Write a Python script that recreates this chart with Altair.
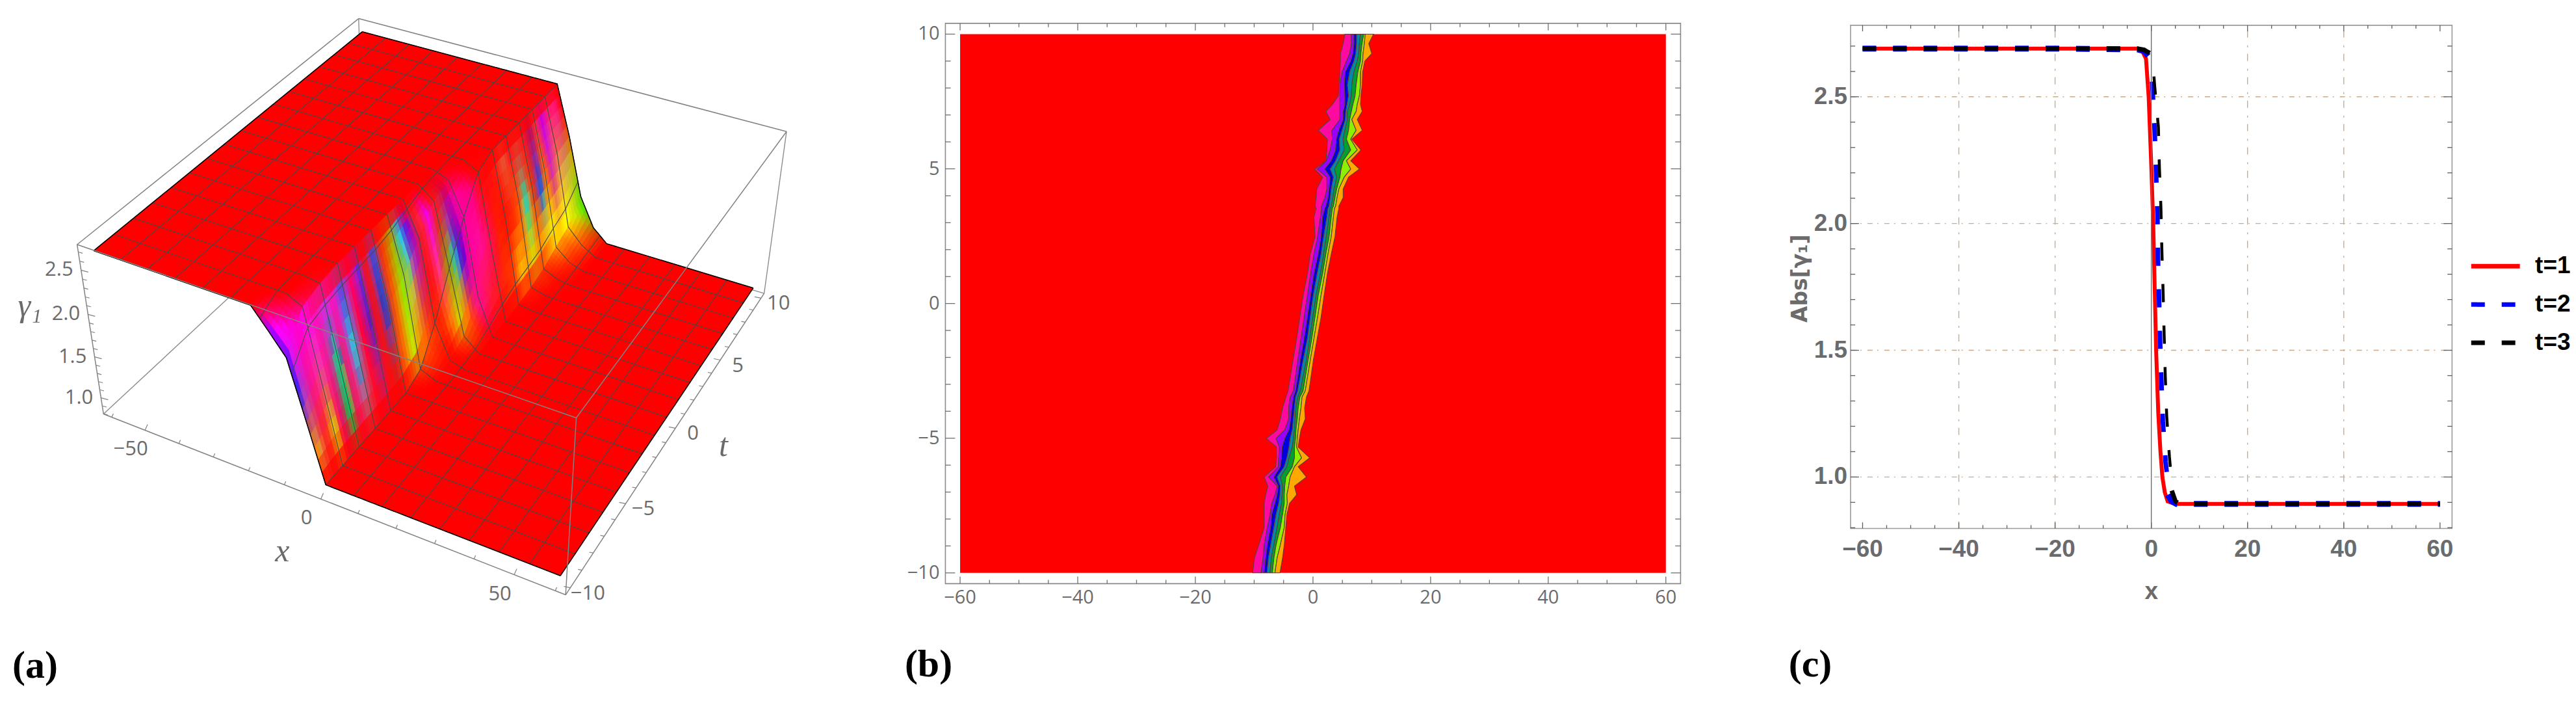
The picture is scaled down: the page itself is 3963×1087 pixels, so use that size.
import numpy as np
import altair as alt

# ---------- panel (a): surface values ----------
PLATEAU = 2.69
FLOOR = 0.894
COL_X = [-60, -21.43, -17.14, -12.86, -8.57, -4.28, 0, 4.28, 8.57, 12.86, 17.14, 21.43, 60]
T_ROWS = [-10, -8.75, -7.5, -6.25, -5, -3.75, -2.5, -1.25, 0, 1.25, 2.5, 3.75, 5, 6.25, 7.5, 8.75, 10]
Z_ROWS = [
    [2.69, 2.47, 2.24, 1.57, .894, .894, .894, .894, .894],
    [2.69, 2.69, 2.60, 1.75, .894, .894, .894, .894, .894],
    [2.69, 2.69, 2.66, 1.78, .894, .894, .894, .894, .894],
    [2.69, 2.69, 2.69, 1.80, .894, .894, .894, .894, .894],
    [2.69, 2.69, 2.69, 1.85, .894, .894, .894, .894, .894],
    [2.69, 2.69, 2.69, 1.90, .894, .894, .894, .894, .894],
    [2.69, 2.69, 2.69, 2.05, .98, .90, .894, .894, .894],
    [2.69, 2.69, 2.69, 2.30, 1.35, .95, .894, .894, .894],
    [2.69, 2.69, 2.69, 2.55, 1.82, 1.05, .894, .894, .894],
    [2.69, 2.69, 2.69, 2.62, 2.25, 1.35, .90, .894, .894],
    [2.69, 2.69, 2.69, 2.69, 2.60, 1.70, .90, .894, .894],
    [2.69, 2.69, 2.69, 2.69, 2.69, 1.90, .92, .894, .894],
    [2.69, 2.69, 2.69, 2.69, 2.69, 1.95, .95, .90, .894],
    [2.69, 2.69, 2.69, 2.69, 2.69, 1.97, 1.00, .92, .894],
    [2.69, 2.69, 2.69, 2.69, 2.69, 2.00, 1.10, .95, .894],
    [2.69, 2.69, 2.69, 2.69, 2.69, 2.05, 1.18, 1.00, .894],
    [2.69, 2.69, 2.69, 2.69, 2.69, 2.10, 1.40, 1.05, .894],
]
STRIPE_T = [-10, -9.7, -9.2, -8.6, -8.2, -7.5, -7, -6.4, -5.7, -5.1, -4.6, -4, -3.4, -2.7, -2.1, -1.6, -1, -.5,
            0, .4, .8, 1.2, 1.9, 2.5, 3.2, 3.75, 4.4, 5, 5.6, 6.25, 7, 7.5, 8.1, 8.75, 9.4, 10]
STRIPE_UP = ["#8000ff", "#ff00ff", "#ff00d0", "#ff10f0", "#ff10c0", "#d030e0", "#ff10c0", "#6060e0", "#ff0070", "#7030d0",
             "#ff1010", "#4060e0", "#ff3000", "#a09000", "#30c0f0", "#7000d0", "#ff3020", "#f000e0",
             "#ff2020", "#c03060", "#a00090", "#ff00a0", "#ff0080", "#ff1010", "#ff1010", "#ff2010", "#e06040", "#ff2020",
             "#e04030", "#ff2020", "#a01060", "#ff4040", "#c000e0", "#ff3080", "#ff2090", "#ff0000"]
STRIPE_MID = ["#2020ff", "#a040c0", "#ff1090", "#e060a0", "#ff1090", "#20c080", "#ff1080", "#30d0e0", "#ff0040", "#6020a0",
              "#ff1010", "#2050c0", "#ff5000", "#90e000", "#b0b060", "#c03080", "#ff1010", "#ff4090",
              "#808000", "#40c0c0", "#4000d0", "#ff00a0", "#ff10a0", "#ff1060", "#ff2000", "#ff1000", "#ff2000", "#ff6000",
              "#30d0c0", "#ff4000", "#2060e0", "#ff8000", "#d040a0", "#f0a060", "#c0a060", "#c0a000"]
STRIPE_LOW = ["#ff9000", "#e09040", "#ff2020", "#d0e000", "#ff0060", "#10b050", "#ff1060", "#a08090", "#ff1030", "#c02060",
              "#ff1010", "#c03030", "#ff6000", "#c0e000", "#ff8000", "#ff4000", "#ff2000", "#ff8000",
              "#c0d000", "#ff8000", "#ff4040", "#ff1090", "#ff2040", "#ff2020", "#ff3000", "#ff4000", "#ffc000", "#ffa000",
              "#d0d000", "#ff9000", "#ffd000", "#ffff00", "#ffe000", "#ffff00", "#c0e000", "#40e000"]

# box of panel (a): data extents and their place in the picture
BOX_X = (-62.5, 62.5)
BOX_T = (-10.4, 10.4)
BOX_Z = (0.797, 2.782)
CAMERA = [
    ((-62.5, -10.4, 2.782), (112, 372)), ((-62.5, -10.4, .797), (149.5, 626)),
    ((62.5, -10.4, 2.782), (877.6, 637)), ((62.5, -10.4, .797), (864.3, 901.5)),
    ((62.5, 10.4, 2.782), (1205, 194)), ((62.5, 10.4, .797), (1169, 443)),
    ((-62.5, 10.4, 2.782), (546, 24.6)),
    ((-60, -10, 2.69), (137, 373)), ((60, -10, .894), (858.5, 881)),
    ((60, 10, .894), (1151, 433.6)), ((-60, 10, 2.69), (549, 37)),
    ((0, -10, .894), (493.7, 741)), ((0, 10, 2.69), (850, 115)),
    ((17.14, 10, .894), (929, 370)),
]
XT = [-50, 0, 50]
TT = [-10, -5, 0, 5, 10]
ZT = [1.0, 1.5, 2.0, 2.5]

# ---------- panel (b): contour band edges per t ----------
B_T = [-10, -9.44, -8.96, -8.31, -7.83, -7.42, -7.10, -6.78, -6.44, -6.06, -5.73, -5.33, -5.01, -4.69, -4.28, -3.88, -3.48,
       -3.24, -2.11, -1.30, -.50, .31, 1.11, 1.84, 2.48, 3.21, 3.53,
       3.61, 3.93, 4.25, 4.69, 4.99, 5.30, 5.70, 6.10, 6.43, 6.83, 7.13, 7.39, 7.71, 8.12, 8.60, 9.00, 9.28, 9.65, 10]
B_EDGES = [
    [-10.25, -8.85, -8.30, -7.82, -7.30, -6.90, -6.46, -5.61],
    [-9.95, -8.48, -8.04, -7.56, -7.08, -6.64, -6.09, -5.17],
    [-9.22, -8.30, -7.75, -7.19, -6.64, -6.27, -5.54, -4.88],
    [-8.30, -7.75, -7.19, -6.64, -6.09, -5.54, -4.88, -4.62],
    [-8.30, -7.30, -7.01, -6.27, -5.72, -5.17, -4.73, -4.43],
    [-8.30, -7.01, -6.46, -5.83, -5.35, -4.88, -4.36, -3.99],
    [-8.04, -6.46, -6.09, -5.61, -5.24, -4.88, -4.43, -2.78],
    [-7.67, -6.09, -5.91, -5.54, -5.17, -4.80, -4.14, -3.15],
    [-8.30, -7.56, -6.64, -6.09, -5.54, -4.62, -3.88, -1.12],
    [-6.35, -5.91, -5.54, -4.88, -4.43, -3.51, -3.15, -2.52],
    [-6.20, -5.83, -5.35, -4.43, -4.07, -3.15, -1.93, -.57],
    [-6.20, -5.72, -5.24, -4.07, -3.51, -3.15, -2.78, -2.52],
    [-7.93, -6.27, -4.80, -3.88, -3.33, -2.96, -2.67, -2.30],
    [-6.09, -4.80, -4.07, -3.51, -3.15, -2.89, -2.52, -2.04],
    [-5.54, -4.14, -3.77, -3.33, -3.04, -2.67, -2.30, -1.31],
    [-5.17, -4.14, -3.59, -3.15, -2.89, -2.52, -2.04, -1.42],
    [-4.62, -3.88, -3.33, -2.96, -2.59, -2.23, -1.86, -1.12],
    [-4.25, -3.33, -2.96, -2.59, -2.15, -1.67, -1.31, -.68],
    [-3.40, -2.59, -2.15, -1.67, -1.12, -.83, -.46, .06],
    [-2.78, -2.04, -1.49, -.94, -.57, -.20, .17, .72],
    [-2.23, -1.49, -.94, -.46, -.02, .35, .79, 1.38],
    [-1.67, -.94, -.39, .06, .53, .90, 1.38, 1.90],
    [-.94, -.39, .17, .72, 1.27, 1.64, 2.01, 2.45],
    [-.46, .17, .90, 1.38, 1.82, 2.19, 2.56, 3.11],
    [.35, .79, 1.38, 1.82, 2.26, 2.74, 3.11, 3.74],
    [.17, 1.27, 1.64, 2.37, 2.74, 3.11, 3.48, 4.10],
    [.53, 1.45, 2.01, 2.56, 2.93, 3.29, 3.66, 4.40],
    [.35, 1.45, 2.19, 2.74, 3.11, 3.48, 3.85, 4.40],
    [.53, 2.01, 2.56, 2.93, 3.37, 3.74, 4.10, 5.13],
    [.64, 2.37, 2.74, 3.11, 3.59, 4.03, 4.40, 5.13],
    [1.64, 2.37, 2.93, 3.48, 4.03, 4.58, 5.32, 6.05],
    [.28, .72, 2.01, 2.93, 3.66, 4.77, 6.42, 7.89],
    [2.19, 2.26, 3.11, 3.85, 4.40, 5.13, 5.69, 6.42],
    [2.37, 2.93, 3.85, 4.58, 5.32, 6.42, 7.53, 8.15],
    [2.45, 3.29, 3.96, 4.47, 5.13, 5.69, 6.42, 6.61],
    [.90, 3.22, 4.40, 4.95, 5.43, 6.05, 7.34, 8.37],
    [2.93, 4.58, 5.13, 5.50, 5.87, 6.24, 6.61, 7.53],
    [2.19, 4.58, 5.13, 5.58, 5.87, 6.53, 7.34, 8.37],
    [3.29, 4.58, 5.43, 5.80, 6.24, 6.79, 7.53, 8.08],
    [4.32, 4.58, 5.43, 6.05, 6.53, 7.16, 7.89, 8.15],
    [4.40, 4.58, 5.32, 5.87, 6.61, 7.34, 8.08, 8.37],
    [4.58, 4.95, 5.50, 6.24, 6.97, 7.64, 8.08, 8.45],
    [4.66, 5.69, 6.42, 6.97, 7.53, 8.08, 8.45, 8.81],
    [4.66, 6.24, 6.79, 7.27, 7.78, 8.15, 8.52, 9.99],
    [5.13, 6.53, 6.97, 7.42, 7.89, 8.34, 8.74, 9.48],
    [5.43, 6.53, 6.97, 7.42, 8.08, 8.63, 8.89, 10.29],
]
B_COLORS = ["#ff0aa0", "#9a00ff", "#0000e0", "#008aa8", "#00a030", "#8cf000", "#ffa800"]
B_XTICKS = [-60, -40, -20, 0, 20, 40, 60]
B_YTICKS = [-10, -5, 0, 5, 10]

# ---------- panel (c): curves ----------
RED_X = [-60, -20, -3, -2, -1.1, -.55, -.05, .4, .7, 1.0, 1.45, 1.9, 2.3, 2.8, 3.4, 4.9, 10, 60]
RED_Y = [2.69, 2.69, 2.69, 2.685, 2.65, 2.5, 2.25, 2.0, 1.75, 1.5, 1.25, 1.1, 1.0, .94, .904, .894, .894, .894]
BLUE_LEFT_X = [-60, -20, -2.9, -1.5, -.45]
BLUE_LEFT_Y = [2.69, 2.69, 2.687, 2.68, 2.657]
BLUE_WALL_X = [.15, .28, .71, 1.0, 1.28, 1.37, 1.6, 1.8, 2.07, 2.4, 2.97, 3.2]
BLUE_WALL_Y = [2.56, 2.524, 2.36, 2.195, 2.03, 1.87, 1.71, 1.55, 1.39, 1.22, 1.06, 1.02]
BLUE_RIGHT_X = [3.44, 4.2, 5.2, 10, 60]
BLUE_RIGHT_Y = [.93, .905, .894, .894, .894]
BLACK_LEFT_X = [-60, -20, -2.9, -1.5, -.1]
BLACK_LEFT_Y = [2.69, 2.69, 2.69, 2.685, 2.67]
BLACK_WALL_X = [.55, .71, 1.47, 1.68, 2.0, 2.2, 2.45, 2.67, 2.9, 3.2, 3.76, 3.95]
BLACK_WALL_Y = [2.58, 2.54, 2.38, 2.22, 2.06, 1.89, 1.73, 1.56, 1.40, 1.24, 1.08, 1.04]
BLACK_RIGHT_X = [4.25, 5.0, 5.8, 10, 60]
BLACK_RIGHT_Y = [.946, .905, .894, .894, .894]
SERIES = ["t=1", "t=2", "t=3"]
SERIES_COLORS = ["#ff0000", "#0000ff", "#000000"]
C_XTICKS = [-60, -40, -20, 0, 20, 40, 60]
C_YTICKS = [1.0, 1.5, 2.0, 2.5]

GRAY = "#6b6b6b"
FULL_H = 1071


def hex2rgb(h):
    return np.array([int(h[i:i + 2], 16) for i in (1, 3, 5)], dtype=float)


def minus(v):
    return f"{v}".replace("-", "\u2212")


# ---- projection fitted to the box of the picture ----
def _norm(p):
    return p[0] / 62.5, p[1] / 10.4, (p[2] - 1.79) / 0.99


_A, _b = [], []
for p3, p2 in CAMERA:
    X, Y, Z = _norm(p3)
    u, v = p2
    _A.append([X, Y, Z, 1, 0, 0, 0, 0, -u * X, -u * Y, -u * Z])
    _b.append(u)
    _A.append([0, 0, 0, 0, X, Y, Z, 1, -v * X, -v * Y, -v * Z])
    _b.append(v)
_h = np.linalg.lstsq(np.array(_A), np.array(_b), rcond=None)[0]


def project(x, t, z):
    X, Y, Z = _norm((x, t, z))
    w = _h[8] * X + _h[9] * Y + _h[10] * Z + 1
    return (float((_h[0] * X + _h[1] * Y + _h[2] * Z + _h[3]) / w),
            float((_h[4] * X + _h[5] * Y + _h[6] * Z + _h[7]) / w))


Z_FULL = np.array([[PLATEAU, PLATEAU] + r + [FLOOR, FLOOR] for r in Z_ROWS])


def z_at(x, t):
    col = [np.interp(t, T_ROWS, Z_FULL[:, j]) for j in range(len(COL_X))]
    return float(np.interp(x, COL_X, col))


UP, MID, LOW = [np.array([hex2rgb(c) for c in L]) for L in (STRIPE_UP, STRIPE_MID, STRIPE_LOW)]
RED = np.array([255., 0, 0])


def surface_color(t, z):
    v = (PLATEAU - z) / (PLATEAU - FLOOR)
    up = [np.interp(t, STRIPE_T, UP[:, k]) for k in range(3)]
    mid = [np.interp(t, STRIPE_T, MID[:, k]) for k in range(3)]
    low = [np.interp(t, STRIPE_T, LOW[:, k]) for k in range(3)]
    keys = [0, .12, .45, .8, 1]
    rgb = np.array([float(np.interp(v, keys, [RED[k], up[k], mid[k], low[k], RED[k]])) for k in range(3)])
    hi, lo = rgb.max(), rgb.min()
    rgb = (rgb - lo) / max(hi - lo, 1) * 255 * 0.2 + rgb * 0.8
    return "#%02x%02x%02x" % tuple(int(round(min(255, c))) for c in rgb)


# ---- surface polygons ----
base_rows = []
pid = 0
for i in range(len(T_ROWS) - 1):
    t0_, t1_ = T_ROWS[i], T_ROWS[i + 1]
    ring = [(x, t0_) for x in COL_X] + [(x, t1_) for x in reversed(COL_X)]
    for o, (x, t) in enumerate(ring):
        px, py = project(x, t, z_at(x, t))
        base_rows.append({"px": px, "py": py, "id": pid, "o": o})
    pid += 1

quad_rows = []
fine_t = [-10 + .2 * k for k in range(101)]
fine_x = []
for a, b in zip(COL_X[1:-2], COL_X[2:-1]):
    fine_x += [a + (b - a) * k / 5 for k in range(5)]
fine_x.append(COL_X[-2])
for i in range(len(fine_t) - 1):
    t0_, t1_ = fine_t[i], fine_t[i + 1]
    for a, b in zip(fine_x[:-1], fine_x[1:]):
        zs = [z_at(a, t0_), z_at(b, t0_), z_at(b, t1_), z_at(a, t1_)]
        if max(zs) - FLOOR < 0.002 or PLATEAU - min(zs) < 0.002:
            continue
        c = surface_color((t0_ + t1_) / 2, sum(zs) / 4)
        for o, (x, t, z) in enumerate(zip([a, b, b, a], [t0_, t0_, t1_, t1_], zs)):
            px, py = project(x, t, z)
            quad_rows.append({"px": px, "py": py, "id": pid, "o": o, "c": c})
        pid += 1

mesh_rows = []
lid = 0
for k in range(1, 16):
    t = -10 + 1.25 * k
    xs = sorted(set([-60, 60] + [x for x in fine_x]))
    for o, x in enumerate(xs):
        px, py = project(x, t, z_at(x, t))
        mesh_rows.append({"px": px, "py": py, "id": lid, "o": o})
    lid += 1
for k in range(1, 16):
    x = -60 + 7.5 * k
    for o, t in enumerate(fine_t):
        px, py = project(x, t, z_at(x, t))
        mesh_rows.append({"px": px, "py": py, "id": lid, "o": o})
    lid += 1

edge_rows = []
for t in (-10, 10):
    xs = sorted(set([-60, 60] + fine_x))
    for o, x in enumerate(xs):
        px, py = project(x, t, z_at(x, t))
        edge_rows.append({"px": px, "py": py, "id": lid, "o": o})
    lid += 1
for x in (-60, 60):
    for o, t in enumerate((-10, 10)):
        px, py = project(x, t, z_at(x, t))
        edge_rows.append({"px": px, "py": py, "id": lid, "o": o})
    lid += 1


def seg(p, q):
    a, b = project(*p), project(*q)
    return {"px": a[0], "py": a[1], "px2": b[0], "py2": b[1]}


x0, x1 = BOX_X
t0, t1 = BOX_T
z0, z1 = BOX_Z
back_box = [seg((x0, t0, z0), (x0, t1, z0)), seg((x0, t1, z0), (x1, t1, z0)), seg((x0, t1, z0), (x0, t1, z1)),
            seg((x1, t1, z0), (x1, t1, z1))]
front_box = [seg((x0, t0, z1), (x1, t0, z1)), seg((x1, t0, z1), (x1, t1, z1)), seg((x1, t1, z1), (x0, t1, z1)),
             seg((x0, t1, z1), (x0, t0, z1)), seg((x0, t0, z1), (x0, t0, z0)), seg((x0, t0, z0), (x1, t0, z0)),
             seg((x1, t0, z0), (x1, t1, z0)), seg((x1, t0, z0), (x1, t0, z1))]


def tick_rows(points, major, dx, dy):
    rows = []
    for p, is_major in zip(points, major):
        a = project(*p)
        f = 1.0 if is_major else 0.6
        rows.append({"px": a[0], "py": a[1], "px2": a[0] + dx * f, "py2": a[1] + dy * f})
    return rows


ticks = []
xs_t = list(range(-60, 61, 10))
ticks += tick_rows([(x, t0, z0) for x in xs_t], [x % 50 == 0 for x in xs_t], 4, -9)
ts_t = list(range(-10, 11))
ticks += tick_rows([(x1, t, z0) for t in ts_t], [t % 5 == 0 for t in ts_t], -10, -2)
zs_t = [round(.8 + .1 * k, 1) for k in range(20)]
ticks += tick_rows([(x0, t0, z) for z in zs_t], [round(z * 10) % 5 == 0 for z in zs_t], 11, 3)

labels = []
for x in XT:
    a = project(x, t0, z0)
    labels.append({"px": a[0] - 22, "py": a[1] + 30, "s": minus(x)})
for t in TT:
    a = project(x1, t, z0)
    labels.append({"px": a[0] + 27, "py": a[1] + 9, "s": minus(t)})
for z in ZT:
    a = project(x0, t0, z)
    labels.append({"px": a[0] - 34, "py": a[1], "s": f"{z:.1f}"})
ax_titles = [{"px": 427, "py": 841, "s": "x"}, {"px": 1107, "py": 678, "s": "t"}, {"px": 38, "py": 463, "s": "\u03b3\u2081"}]

W_A, W_B, W_C = 1300, 1340, 1307
SAX = alt.Scale(domain=[0, W_A], range=[0, W_A], nice=False, zero=False)
SAY = alt.Scale(domain=[0, FULL_H], range=[0, FULL_H], nice=False, zero=False)


def AX(f="px"):
    return alt.X(f"{f}:Q", scale=SAX, axis=None)


def AY(f="py"):
    return alt.Y(f"{f}:Q", scale=SAY, axis=None)


def rules(rows, color, width):
    return alt.Chart(alt.Data(values=rows)).mark_rule(color=color, strokeWidth=width).encode(
        x=AX(), y=AY(), x2="px2:Q", y2="py2:Q")


def polys(rows, **kw):
    return alt.Chart(alt.Data(values=rows)).mark_line(interpolate="linear-closed", strokeWidth=0.8, opacity=1,
                                                      fillOpacity=1, strokeOpacity=1, **kw)


panel_a = alt.layer(
    rules(back_box, "#8c8c8c", 1.4),
    polys(base_rows, color="#ff0000", fill="#ff0000").encode(x=AX(), y=AY(), detail="id:N", order="o:Q"),
    polys(quad_rows).encode(x=AX(), y=AY(), detail="id:N", order="o:Q",
                            fill=alt.Fill("c:N", scale=None), stroke=alt.Stroke("c:N", scale=None)),
    alt.Chart(alt.Data(values=mesh_rows)).mark_line(color="#484848", strokeWidth=1.1).encode(
        x=AX(), y=AY(), detail="id:N", order="o:Q"),
    alt.Chart(alt.Data(values=edge_rows)).mark_line(color="#000000", strokeWidth=1.6).encode(
        x=AX(), y=AY(), detail="id:N", order="o:Q"),
    rules(front_box, "#828282", 1.5),
    rules(ticks, "#828282", 1.2),
    alt.Chart(alt.Data(values=labels)).mark_text(font="Open Sans", fontSize=31, color=GRAY).encode(
        x=AX(), y=AY(), text="s:N"),
    alt.Chart(alt.Data(values=ax_titles)).mark_text(font="Liberation Serif", fontStyle="italic", fontSize=50,
                                                    color=GRAY).encode(x=AX(), y=AY(), text="s:N"),
    alt.Chart(alt.Data(values=[{"s": "(a)"}])).mark_text(font="Liberation Serif", fontWeight="bold", fontSize=60,
                                                         color="#000000").encode(
        x=alt.value(46), y=alt.value(1017), text="s:N"),
).properties(width=W_A, height=FULL_H)

# ---------- panel (b) ----------
B_RANGE_X = [149, 1282]
B_RANGE_Y = [890, 27]
SBX = alt.Scale(domain=[-62.5, 62.5], range=B_RANGE_X, nice=False, zero=False)
SBY = alt.Scale(domain=[-10.4, 10.4], range=B_RANGE_Y, nice=False, zero=False)


def BX(f="x"):
    return alt.X(f"{f}:Q", scale=SBX, axis=None)


def BY(f="y"):
    return alt.Y(f"{f}:Q", scale=SBY, axis=None)


band_rows = []
for j, c in enumerate(B_COLORS):
    o = 0
    for t, edges in zip(B_T, B_EDGES):
        band_rows.append({"x": edges[j], "y": t, "band": j, "o": o, "c": c})
        o += 1
    for t, edges in zip(reversed(B_T), reversed(B_EDGES)):
        band_rows.append({"x": edges[j + 1], "y": t, "band": j, "o": o, "c": c})
        o += 1


def frame_ticks(xmaj, xmin, ymaj, ymin, xdom, ydom, xl, yl):
    vert, horiz = [], []
    for vals, f in ((xmaj, 1.0), (xmin, .55)):
        for v in vals:
            vert.append({"x": v, "y": ydom[0], "y2": ydom[0] + yl * f})
            vert.append({"x": v, "y": ydom[1], "y2": ydom[1] - yl * f})
    for vals, f in ((ymaj, 1.0), (ymin, .55)):
        for v in vals:
            horiz.append({"y": v, "x": xdom[0], "x2": xdom[0] + xl * f})
            horiz.append({"y": v, "x": xdom[1], "x2": xdom[1] - xl * f})
    return vert, horiz


bv, bh = frame_ticks(B_XTICKS, [v for v in range(-60, 61, 5) if v % 20],
                     B_YTICKS, [v for v in range(-10, 11) if v % 5],
                     (-62.5, 62.5), (-10.4, 10.4), 1.65, .26)

panel_b = alt.layer(
    alt.Chart(alt.Data(values=[{"x": -60, "x2": 60, "y": -10, "y2": 10}])).mark_rect(color="#ff0000").encode(
        x=BX(), y=BY(), x2="x2:Q", y2="y2:Q"),
    alt.Chart(alt.Data(values=band_rows)).mark_line(interpolate="linear-closed", strokeWidth=1.1, opacity=1, fillOpacity=1,
                                                    stroke="#5e3c3c").encode(
        x=BX(), y=BY(), detail="band:N", order="o:Q", fill=alt.Fill("c:N", scale=None)),
    alt.Chart(alt.Data(values=[{"x": -62.5, "x2": 62.5, "y": -10.4, "y2": 10.4}])).mark_rect(
        filled=False, stroke="#8a8a8a", strokeWidth=1.6).encode(x=BX(), y=BY(), x2="x2:Q", y2="y2:Q"),
    alt.Chart(alt.Data(values=bv)).mark_rule(color="#707070", strokeWidth=1.3).encode(x=BX(), y=BY(), y2="y2:Q"),
    alt.Chart(alt.Data(values=bh)).mark_rule(color="#707070", strokeWidth=1.3).encode(x=BX(), y=BY(), x2="x2:Q"),
    alt.Chart(alt.Data(values=[{"x": v, "y": -10.4, "s": minus(v)} for v in B_XTICKS])).mark_text(
        font="Open Sans", fontSize=29, color=GRAY, dy=22).encode(x=BX(), y=BY(), text="s:N"),
    alt.Chart(alt.Data(values=[{"x": -62.5, "y": v, "s": minus(v)} for v in B_YTICKS])).mark_text(
        font="Open Sans", fontSize=29, color=GRAY, dx=-9, align="right").encode(x=BX(), y=BY(), text="s:N"),
    alt.Chart(alt.Data(values=[{"s": "(b)"}])).mark_text(font="Liberation Serif", fontWeight="bold", fontSize=60,
                                                         color="#000000").encode(
        x=alt.value(123), y=alt.value(1015), text="s:N"),
).properties(width=W_B, height=FULL_H)

# ---------- panel (c) ----------
C_RANGE_X = [204, 1131]
C_RANGE_Y = [805, 30]
SCX = alt.Scale(domain=[-62.5, 62.5], range=C_RANGE_X, nice=False, zero=False)
SCY = alt.Scale(domain=[0.797, 2.782], range=C_RANGE_Y, nice=False, zero=False)
BOLD = "Liberation Sans"


def CX(f="x"):
    return alt.X(f"{f}:Q", scale=SCX, axis=None)


def CY(f="y"):
    return alt.Y(f"{f}:Q", scale=SCY, axis=None)


cv, ch = frame_ticks(C_XTICKS, [v for v in range(-60, 61, 5) if v % 20],
                     C_YTICKS, [round(.8 + .1 * k, 1) for k in range(20) if (k + 8) % 5],
                     (-62.5, 62.5), (.797, 2.782), 1.75, .024)

grid_h = [{"y": v, "x": -62.5, "x2": 62.5} for v in C_YTICKS]
grid_v = [{"x": v, "y": .797, "y2": 2.782} for v in [-40, -20, 20, 40]]
axis_line = [{"x": 0, "y": .797, "y2": 2.782}]

LEGEND = dict(orient="none", legendX=3797, legendY=360, title=None, symbolType="stroke",
              symbolSize=5625, symbolStrokeWidth=7, labelFont=BOLD, labelFontWeight="bold",
              labelFontSize=37, labelColor="#000000", labelOffset=20, rowPadding=0, padding=0)
color_enc = alt.Color("series:N", scale=alt.Scale(domain=SERIES, range=SERIES_COLORS), legend=alt.Legend(**LEGEND))
dash_enc = alt.StrokeDash("series:N", scale=alt.Scale(domain=SERIES, range=[[1, 0], [21, 26], [21, 26]]),
                          legend=alt.Legend(**LEGEND))


def curve_rows(xs, ys, name, part=0):
    return [{"x": x, "y": y, "series": name, "part": part, "o": i} for i, (x, y) in enumerate(zip(xs, ys))]


def plateau(rows, width):
    return alt.Chart(alt.Data(values=rows)).mark_line(strokeWidth=width).encode(
        x=CX(), y=CY(), color=color_enc, strokeDash=dash_enc, detail="part:N", order="o:Q")


def wall(rows, color, width):
    return alt.Chart(alt.Data(values=rows)).mark_line(color=color, strokeWidth=width, strokeDash=[28, 36]).encode(
        x=CX(), y=CY(), order="o:Q")


panel_c = alt.layer(
    alt.Chart(alt.Data(values=grid_h)).mark_rule(color="#c9ab8c", strokeWidth=1.4, strokeDash=[8, 7, 2, 9]).encode(
        x=CX(), y=CY(), x2="x2:Q"),
    alt.Chart(alt.Data(values=grid_v)).mark_rule(color="#c9ab8c", strokeWidth=1.4, strokeDash=[11, 10, 3, 12]).encode(
        x=CX(), y=CY(), y2="y2:Q"),
    plateau(curve_rows(RED_X, RED_Y, "t=1"), 6),
    plateau(curve_rows(BLUE_LEFT_X, BLUE_LEFT_Y, "t=2", 0) + curve_rows(BLUE_RIGHT_X, BLUE_RIGHT_Y, "t=2", 1), 9),
    wall(curve_rows(BLUE_WALL_X, BLUE_WALL_Y, "t=2"), "#0000ff", 7),
    plateau(curve_rows(BLACK_LEFT_X, BLACK_LEFT_Y, "t=3", 0) + curve_rows(BLACK_RIGHT_X, BLACK_RIGHT_Y, "t=3", 1), 7),
    wall(curve_rows(BLACK_WALL_X, BLACK_WALL_Y, "t=3"), "#000000", 4.5),
    alt.Chart(alt.Data(values=axis_line)).mark_rule(color="#6e6e6e", strokeWidth=1.4).encode(x=CX(), y=CY(), y2="y2:Q"),
    alt.Chart(alt.Data(values=[{"x": -62.5, "x2": 62.5, "y": .797, "y2": 2.782}])).mark_rect(
        filled=False, stroke="#9a9a9a", strokeWidth=1.6).encode(x=CX(), y=CY(), x2="x2:Q", y2="y2:Q"),
    alt.Chart(alt.Data(values=cv)).mark_rule(color="#5e5e5e", strokeWidth=1.3).encode(x=CX(), y=CY(), y2="y2:Q"),
    alt.Chart(alt.Data(values=ch)).mark_rule(color="#5e5e5e", strokeWidth=1.3).encode(x=CX(), y=CY(), x2="x2:Q"),
    alt.Chart(alt.Data(values=[{"x": v, "y": .797, "s": minus(v)} for v in C_XTICKS])).mark_text(
        font=BOLD, fontWeight="bold", fontSize=37, color=GRAY, dy=33).encode(x=CX(), y=CY(), text="s:N"),
    alt.Chart(alt.Data(values=[{"x": -62.5, "y": v, "s": f"{v:.1f}"} for v in C_YTICKS])).mark_text(
        font=BOLD, fontWeight="bold", fontSize=37, color=GRAY, dx=-5, align="right").encode(x=CX(), y=CY(), text="s:N"),
    alt.Chart(alt.Data(values=[{"x": 0, "y": .797, "s": "x"}])).mark_text(
        font=BOLD, fontWeight="bold", fontSize=37, color=GRAY, dy=98).encode(x=CX(), y=CY(), text="s:N"),
    alt.Chart(alt.Data(values=[{"s": "Abs[\u03b3\u2081]"}])).mark_text(
        font="DejaVu Sans", fontWeight="bold", fontSize=33, color=GRAY, angle=270).encode(
        x=alt.value(127), y=alt.value(420), text="s:N"),
    alt.Chart(alt.Data(values=[{"s": "(c)"}])).mark_text(font="Liberation Serif", fontWeight="bold", fontSize=60,
                                                         color="#000000").encode(
        x=alt.value(142), y=alt.value(1015), text="s:N"),
).properties(width=W_C, height=FULL_H)

chart = alt.hconcat(panel_a, panel_b, panel_c, spacing=0, bounds="flush").properties(padding=0).configure_view(stroke=None)
chart.save("out.html", embed_options={"renderer": "svg", "actions": False})
